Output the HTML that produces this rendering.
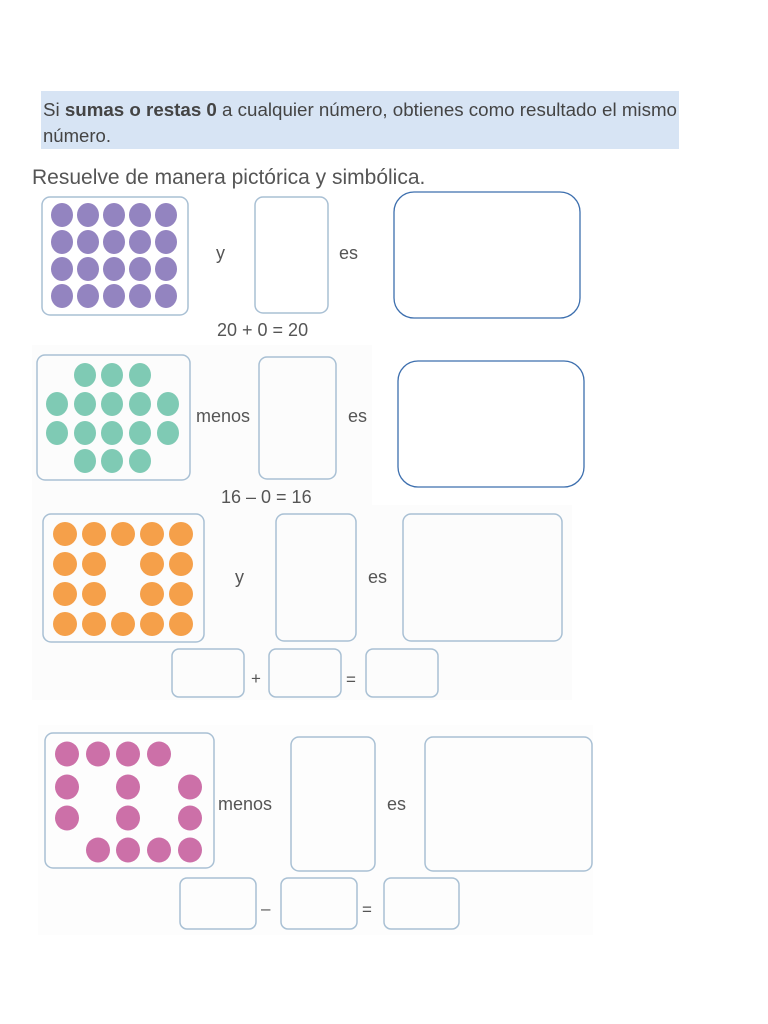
<!DOCTYPE html>
<html><head><meta charset="utf-8"><style>
html,body{margin:0;padding:0;background:#fff;}
svg{display:block;font-family:"Liberation Sans",sans-serif;}
</style></head><body>
<svg width="768" height="1024" viewBox="0 0 768 1024" xmlns="http://www.w3.org/2000/svg">
<rect width="768" height="1024" fill="#fff"/>
<rect x="32" y="345" width="340" height="160" fill="#fcfcfc"/>
<rect x="32" y="505" width="540" height="195" fill="#fcfcfc"/>
<rect x="38" y="725" width="555" height="210" fill="#fdfdfd"/>
<rect x="41" y="91" width="638" height="58" fill="#d7e4f4"/>
<text x="43" y="116" font-size="18" fill="#444" textLength="634" lengthAdjust="spacingAndGlyphs">Si <tspan font-weight="bold">sumas o restas 0</tspan> a cualquier número, obtienes como resultado el mismo</text>
<text x="43" y="142" font-size="18" fill="#444" textLength="68" lengthAdjust="spacingAndGlyphs">número.</text>
<text x="32" y="184" font-size="21" fill="#555">Resuelve de manera pictórica y simbólica.</text>

<g fill="none" stroke="#a9c0d4" stroke-width="1.5">
<rect x="42" y="197" width="146" height="118" rx="8"/>
<rect x="255" y="197" width="73" height="116" rx="8"/>
<rect x="37" y="355" width="153" height="125" rx="8"/>
<rect x="259" y="357" width="77" height="122" rx="8"/>
<rect x="43" y="514" width="161" height="128" rx="8"/>
<rect x="276" y="514" width="80" height="127" rx="8"/>
<rect x="403" y="514" width="159" height="127" rx="8"/>
<rect x="172" y="649" width="72" height="48" rx="7"/>
<rect x="269" y="649" width="72" height="48" rx="7"/>
<rect x="366" y="649" width="72" height="48" rx="7"/>
<rect x="45" y="733" width="169" height="135" rx="8"/>
<rect x="291" y="737" width="84" height="134" rx="8"/>
<rect x="425" y="737" width="167" height="134" rx="8"/>
<rect x="180" y="878" width="76" height="51" rx="7"/>
<rect x="281" y="878" width="76" height="51" rx="7"/>
<rect x="384" y="878" width="75" height="51" rx="7"/>
</g>
<g fill="none" stroke="#3d6fae" stroke-width="1.3">
<rect x="394" y="192" width="186" height="126" rx="20"/>
<rect x="398" y="361" width="186" height="126" rx="20"/>
</g>

<g fill="#9384c0">
<ellipse cx="62" cy="215" rx="11" ry="12"/><ellipse cx="88" cy="215" rx="11" ry="12"/><ellipse cx="114" cy="215" rx="11" ry="12"/><ellipse cx="140" cy="215" rx="11" ry="12"/><ellipse cx="166" cy="215" rx="11" ry="12"/>
<ellipse cx="62" cy="242" rx="11" ry="12"/><ellipse cx="88" cy="242" rx="11" ry="12"/><ellipse cx="114" cy="242" rx="11" ry="12"/><ellipse cx="140" cy="242" rx="11" ry="12"/><ellipse cx="166" cy="242" rx="11" ry="12"/>
<ellipse cx="62" cy="269" rx="11" ry="12"/><ellipse cx="88" cy="269" rx="11" ry="12"/><ellipse cx="114" cy="269" rx="11" ry="12"/><ellipse cx="140" cy="269" rx="11" ry="12"/><ellipse cx="166" cy="269" rx="11" ry="12"/>
<ellipse cx="62" cy="296" rx="11" ry="12"/><ellipse cx="88" cy="296" rx="11" ry="12"/><ellipse cx="114" cy="296" rx="11" ry="12"/><ellipse cx="140" cy="296" rx="11" ry="12"/><ellipse cx="166" cy="296" rx="11" ry="12"/>
</g>
<g fill="#7fcab4">
<ellipse cx="85" cy="375" rx="11" ry="12"/><ellipse cx="112" cy="375" rx="11" ry="12"/><ellipse cx="140" cy="375" rx="11" ry="12"/>
<ellipse cx="57" cy="404" rx="11" ry="12"/><ellipse cx="85" cy="404" rx="11" ry="12"/><ellipse cx="112" cy="404" rx="11" ry="12"/><ellipse cx="140" cy="404" rx="11" ry="12"/><ellipse cx="168" cy="404" rx="11" ry="12"/>
<ellipse cx="57" cy="433" rx="11" ry="12"/><ellipse cx="85" cy="433" rx="11" ry="12"/><ellipse cx="112" cy="433" rx="11" ry="12"/><ellipse cx="140" cy="433" rx="11" ry="12"/><ellipse cx="168" cy="433" rx="11" ry="12"/>
<ellipse cx="85" cy="461" rx="11" ry="12"/><ellipse cx="112" cy="461" rx="11" ry="12"/><ellipse cx="140" cy="461" rx="11" ry="12"/>
</g>
<g fill="#f5a04a">
<ellipse cx="65" cy="534" rx="12" ry="12"/><ellipse cx="94" cy="534" rx="12" ry="12"/><ellipse cx="123" cy="534" rx="12" ry="12"/><ellipse cx="152" cy="534" rx="12" ry="12"/><ellipse cx="181" cy="534" rx="12" ry="12"/>
<ellipse cx="65" cy="564" rx="12" ry="12"/><ellipse cx="94" cy="564" rx="12" ry="12"/><ellipse cx="152" cy="564" rx="12" ry="12"/><ellipse cx="181" cy="564" rx="12" ry="12"/>
<ellipse cx="65" cy="594" rx="12" ry="12"/><ellipse cx="94" cy="594" rx="12" ry="12"/><ellipse cx="152" cy="594" rx="12" ry="12"/><ellipse cx="181" cy="594" rx="12" ry="12"/>
<ellipse cx="65" cy="624" rx="12" ry="12"/><ellipse cx="94" cy="624" rx="12" ry="12"/><ellipse cx="123" cy="624" rx="12" ry="12"/><ellipse cx="152" cy="624" rx="12" ry="12"/><ellipse cx="181" cy="624" rx="12" ry="12"/>
</g>
<g fill="#cc70a8">
<ellipse cx="67" cy="754" rx="12" ry="12.5"/><ellipse cx="98" cy="754" rx="12" ry="12.5"/><ellipse cx="128" cy="754" rx="12" ry="12.5"/><ellipse cx="159" cy="754" rx="12" ry="12.5"/>
<ellipse cx="67" cy="787" rx="12" ry="12.5"/><ellipse cx="128" cy="787" rx="12" ry="12.5"/><ellipse cx="190" cy="787" rx="12" ry="12.5"/>
<ellipse cx="67" cy="818" rx="12" ry="12.5"/><ellipse cx="128" cy="818" rx="12" ry="12.5"/><ellipse cx="190" cy="818" rx="12" ry="12.5"/>
<ellipse cx="98" cy="850" rx="12" ry="12.5"/><ellipse cx="128" cy="850" rx="12" ry="12.5"/><ellipse cx="159" cy="850" rx="12" ry="12.5"/><ellipse cx="190" cy="850" rx="12" ry="12.5"/>
</g>

<g font-size="18" fill="#555">
<text x="216" y="259">y</text>
<text x="339" y="259">es</text>
<text x="217" y="336">20 + 0 = 20</text>
<text x="196" y="422">menos</text>
<text x="348" y="422">es</text>
<text x="221" y="503">16 – 0 = 16</text>
<text x="235" y="583">y</text>
<text x="368" y="583">es</text>
<text x="218" y="810">menos</text>
<text x="387" y="810">es</text>
</g>
<g font-size="17" fill="#555">
<text x="251" y="684">+</text>
<text x="346" y="685">=</text>
<text x="261" y="914">–</text>
<text x="362" y="915">=</text>
</g>
</svg>
</body></html>
